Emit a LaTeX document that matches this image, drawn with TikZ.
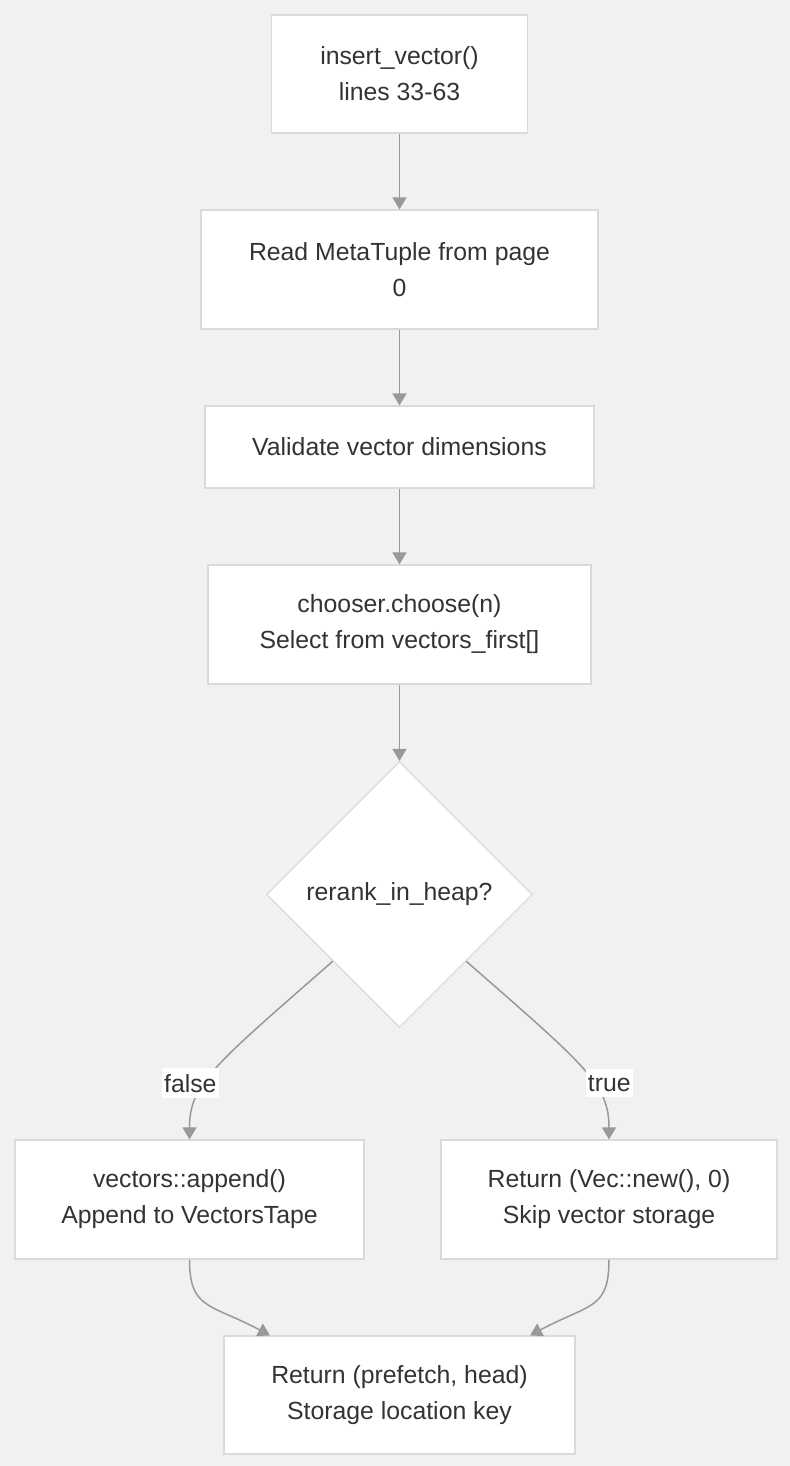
\documentclass[tikz,border=0pt]{standalone}
\usepackage{fontspec}
\setmainfont{Liberation Sans}
\usepackage{tikz}
\usetikzlibrary{shapes.geometric,arrows.meta,calc,positioning}
\definecolor{bgcol}{RGB}{242,241,240}
\definecolor{boxline}{RGB}{218,218,218}
\definecolor{flowgray}{RGB}{153,153,153}
\definecolor{txtcol}{RGB}{51,51,51}
\tikzset{% styles of the flow chart
	procbox/.style={draw=boxline, line width=0.6pt, fill=white, text=txtcol,
		align=center, inner sep=0pt, font=\fontsize{12.4}{18}\selectfont},
	decbox/.style={diamond, draw=boxline, line width=0.6pt, fill=white, text=txtcol,
		inner sep=0pt, minimum width=133pt, minimum height=133pt,
		font=\fontsize{12.4}{18}\selectfont},
	flowarrow/.style={draw=flowgray, line width=0.75pt, -{Triangle[width=7pt,length=6pt]}},
	edgelbl/.style={fill=white, text=txtcol, inner xsep=1pt, inner ysep=3pt, font=\fontsize{12.4}{18}\selectfont}
}

\begin{document}
\begin{tikzpicture}[x=0.5pt,y=-0.5pt]
\fill[bgcol] (0,0) rectangle (790,1466);
\node[procbox, minimum width=128pt, minimum height=59pt] (ins) at (399.5,74) {insert\_vector()\\lines 33-63};
\node[procbox, minimum width=198.5pt, minimum height=59.5pt] (rd) at (399.5,269.5) {Read MetaTuple from page\\0};
\node[procbox, minimum width=194.5pt, minimum height=41pt] (val) at (399.5,447) {Validate vector dimensions};
\node[procbox, minimum width=191.5pt, minimum height=59.5pt] (cho) at (399.5,624.5) {chooser.choose(n)\\Select from vectors\_first[]};
\node[decbox] (dec) at (399.5,894.5) {rerank\_in\_heap?};
\node[procbox, minimum width=174.5pt, minimum height=59.5pt] (app) at (189.5,1199.5) {vectors::append()\\Append to VectorsTape};
\node[procbox, minimum width=168pt, minimum height=59.5pt] (ret) at (609,1199.5) {Return (Vec::new(), 0)\\Skip vector storage};
\node[procbox, minimum width=175.5pt, minimum height=59pt] (fin) at (399.5,1395) {Return (prefetch, head)\\Storage location key};
% straight part
\draw[flowarrow] (ins) -- (rd);
\draw[flowarrow] (rd) -- (val);
\draw[flowarrow] (val) -- (cho);
\draw[flowarrow] (cho) -- (dec);
% branches
\draw[flowarrow] (dec.south west) .. controls +(-120,105) and +(0,-55) .. node[edgelbl, pos=0.6, xshift=-7.5pt] {false} (app.north);
\draw[flowarrow] (dec.south east) .. controls +(120,105) and +(0,-55) .. node[edgelbl, pos=0.6, xshift=8pt] {true} (ret.north);
\draw[flowarrow] (app.south) .. controls +(0,50) and +(-60,-32) .. ($(fin.north)+(-129.5,0)$);
\draw[flowarrow] (ret.south) .. controls +(0,50) and +(60,-32) .. ($(fin.north)+(130.5,0)$);
\end{tikzpicture}
\end{document}
